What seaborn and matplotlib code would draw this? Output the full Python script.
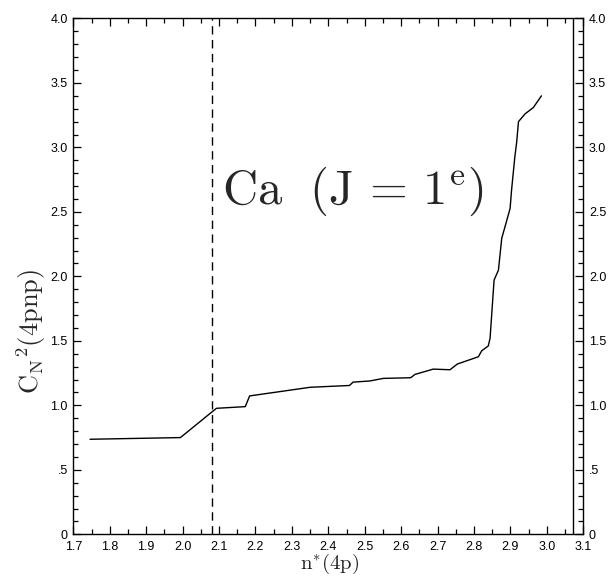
import matplotlib
matplotlib.use("Agg")
import matplotlib.pyplot as plt
import seaborn as sns
import pandas as pd
from matplotlib.ticker import MultipleLocator, FuncFormatter

# data
n_star = [1.746, 1.994, 2.081, 2.093, 2.172, 2.184, 2.35, 2.458, 2.468, 2.514,
          2.551, 2.626, 2.638, 2.688, 2.734, 2.754, 2.812, 2.821, 2.839, 2.844,
          2.855, 2.867, 2.876, 2.885, 2.899, 2.903, 2.912, 2.917, 2.922, 2.94,
          2.963, 2.985]
c2 = [0.737, 0.75, 0.95, 0.977, 0.99, 1.073, 1.14, 1.154, 1.18, 1.189,
      1.209, 1.214, 1.24, 1.281, 1.276, 1.32, 1.377, 1.423, 1.46, 1.52,
      1.971, 2.049, 2.295, 2.385, 2.527, 2.669, 2.927, 3.04, 3.2, 3.26,
      3.31, 3.40]
dashed_x = 2.08
solid_x = 3.072
x_ticks = [1.7, 1.8, 1.9, 2.0, 2.1, 2.2, 2.3, 2.4, 2.5, 2.6, 2.7, 2.8, 2.9, 3.0, 3.1]
y_ticks = [0, 0.5, 1.0, 1.5, 2.0, 2.5, 3.0, 3.5, 4.0]
title_text = r"$\mathrm{Ca}\ \ (\mathrm{J}\,{=}\,1^{\mathrm{e}})$"

sns.set_style("ticks")
plt.rcParams["mathtext.fontset"] = "cm"
plt.rcParams["font.family"] = ["Liberation Sans", "DejaVu Sans"]

fig = plt.figure(figsize=(6.15, 5.77), dpi=100)
ax = fig.add_axes([0.1192, 0.074, 0.9485 - 0.1192, 0.968 - 0.074])

df = pd.DataFrame({"n": n_star, "c": c2})
sns.lineplot(data=df, x="n", y="c", ax=ax, color="black", linewidth=1.0,
             estimator=None, sort=False)

ax.axvline(dashed_x, color="black", linewidth=1.0, linestyle=(0, (6, 4)))
ax.axvline(solid_x, color="black", linewidth=1.0)

ax.set_xlim(1.7, 3.1)
ax.set_ylim(0, 4.0)
ax.set_xticks(x_ticks)
ax.set_yticks(y_ticks)
ax.xaxis.set_minor_locator(MultipleLocator(0.05))
ax.yaxis.set_minor_locator(MultipleLocator(0.1))


def yfmt(v, pos):
    if abs(v) < 1e-9:
        return "0"
    if v < 1:
        return ".5"
    return f"{v:.1f}"


ax.xaxis.set_major_formatter(FuncFormatter(lambda v, p: f"{v:.1f}"))
ax.yaxis.set_major_formatter(FuncFormatter(yfmt))

ax.tick_params(which="both", direction="in", top=True, right=True,
               labelright=True, labelsize=9, width=0.9, color="black",
               labelcolor="black")
ax.tick_params(which="major", length=6)
ax.tick_params(axis="x", which="major", pad=5)
ax.tick_params(axis="y", which="major", pad=4)
ax.tick_params(which="minor", length=3.5)
for s in ax.spines.values():
    s.set_linewidth(1.0)
    s.set_color("black")

ax.set_xlabel(r"$\mathrm{n}^{*}\mathrm{(4p)}$", fontsize=15)
ax.set_ylabel(r"$\mathrm{C_{N}}^{2}\mathrm{(4pnp)}$", fontsize=19)
ax.xaxis.set_label_coords(0.503, -0.034)
ax.yaxis.set_label_coords(-0.05, 0.394)

ax.text(2.107, 2.66, title_text, fontsize=35, ha="left", va="center")

fig.savefig("out.png", dpi=100)
